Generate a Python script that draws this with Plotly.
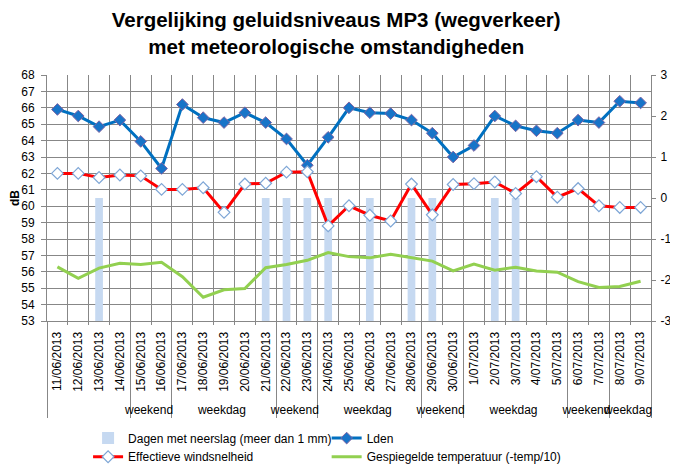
import plotly.graph_objects as go

dates = ["11/06/2013", "12/06/2013", "13/06/2013", "14/06/2013", "15/06/2013",
         "16/06/2013", "17/06/2013", "18/06/2013", "19/06/2013", "20/06/2013",
         "21/06/2013", "22/06/2013", "23/06/2013", "24/06/2013", "25/06/2013",
         "26/06/2013", "27/06/2013", "28/06/2013", "29/06/2013", "30/06/2013",
         "1/07/2013", "2/07/2013", "3/07/2013", "4/07/2013", "5/07/2013",
         "6/07/2013", "7/07/2013", "8/07/2013", "9/07/2013"]

periods = [" ", " ", " ", " ",
           "weekend", "weekend",
           "weekdag", "weekdag", "weekdag", "weekdag", "weekdag",
           "weekend", "weekend",
           "weekdag", "weekdag", "weekdag", "weekdag", "weekdag",
           "weekend", "weekend",
           "weekdag", "weekdag", "weekdag", "weekdag", "weekdag",
           "weekend", "weekend",
           "weekdag", "weekdag"]

lden = [65.9, 65.5, 64.85, 65.25, 63.95, 62.3, 66.2, 65.4, 65.1, 65.7,
        65.1, 64.1, 62.5, 64.2, 66.0, 65.7, 65.65, 65.25, 64.45, 63.0,
        63.7, 65.5, 64.9, 64.6, 64.45, 65.25, 65.1, 66.4, 66.3]

wind = [0.60, 0.60, 0.50, 0.56, 0.54, 0.21, 0.21, 0.25, -0.35, 0.34,
        0.36, 0.63, 0.64, -0.68, -0.19, -0.42, -0.56, 0.34, -0.41, 0.33,
        0.35, 0.39, 0.11, 0.52, 0.02, 0.23, -0.19, -0.23, -0.23]

temp = [-1.68, -1.96, -1.71, -1.59, -1.62, -1.57, -1.92, -2.42, -2.24, -2.21,
        -1.70, -1.62, -1.52, -1.33, -1.43, -1.46, -1.37, -1.45, -1.54, -1.78,
        -1.61, -1.76, -1.69, -1.78, -1.81, -2.04, -2.18, -2.16, -2.03]

rain = [None, None, 60.5, None, None, None, None, None, None, None,
        60.5, 60.5, 60.5, 60.5, None, 60.5, None, 60.5, 60.5, None,
        None, 60.5, 60.5, None, None, None, None, None, None]

right_ticks = [-3, -2, -1, 0, 1, 2, 3]
right_ticktext = ["-3", "-2", "-1", "0", "1", "2", "3"]

# make each contiguous run of period labels a distinct group (zero-width suffix)
groups = []
run = 0
for i, p in enumerate(periods):
    if i > 0 and p != periods[i - 1]:
        run += 1
    groups.append(p + "\u200b" * run)
x = [groups, ["\u00a0" + d for d in dates]]

FONT = "Liberation Sans"
GRID = "#878787"

fig = go.Figure()
fig.add_trace(go.Bar(
    x=x, y=rain, name="Dagen met neerslag (meer dan 1 mm)",
    marker=dict(color="#C6D9F1", line=dict(width=0)), width=0.37,
    yaxis="y", legend="legend"))
fig.add_trace(go.Scatter(
    x=x, y=lden, name="Lden", mode="lines+markers",
    line=dict(color="#0070C0", width=3),
    marker=dict(symbol="diamond", size=9, color="#1874C8",
                line=dict(color="#8064A2", width=1)),
    yaxis="y", legend="legend2"))
fig.add_trace(go.Scatter(
    x=x, y=wind, name="Effectieve windsnelheid", mode="lines+markers",
    line=dict(color="#FF0000", width=3),
    marker=dict(symbol="diamond", size=9, color="white",
                line=dict(color="#7EA6D6", width=1.2)),
    yaxis="y2", legend="legend3"))
fig.add_trace(go.Scatter(
    x=x, y=temp, name="Gespiegelde temperatuur (-temp/10)", mode="lines",
    line=dict(color="#92D050", width=3),
    yaxis="y2", legend="legend4"))

legend_common = dict(orientation="h", xanchor="left", yanchor="middle",
                     font=dict(family=FONT, size=12),
                     bgcolor="rgba(0,0,0,0)")
col1, col2 = 0.068, 0.463
row1, row2 = -0.476, -0.552

fig.update_layout(
    width=662, height=458,
    margin=dict(l=39, r=19, t=67, b=145, autoexpand=False),
    paper_bgcolor="white", plot_bgcolor="white",
    font=dict(family=FONT, size=12, color="black"),
    title=dict(text="Vergelijking geluidsniveaus MP3 (wegverkeer)<br>met meteorologische omstandigheden",
               font=dict(family=FONT, size=20.5, color="black", weight="bold"),
               x=0.4958, xanchor="center", y=0.9588, yanchor="middle"),
    showlegend=True,
    legend=dict(legend_common, x=col1, y=row1),
    legend2=dict(legend_common, x=col2, y=row1),
    legend3=dict(legend_common, x=col1, y=row2),
    legend4=dict(legend_common, x=col2, y=row2),
    xaxis=dict(type="multicategory", tickangle=-90, showgrid=True, gridcolor=GRID,
               gridwidth=1, showline=True, linecolor=GRID, linewidth=1,
               range=[-0.5, len(dates) - 0.5],
               ticks="outside", ticklen=3, tickcolor=GRID, ticklabelstandoff=5,
               showdividers=True, dividercolor=GRID, dividerwidth=1,
               tickfont=dict(family=FONT, size=12), automargin=False),
    yaxis=dict(range=[53, 68], dtick=1, showgrid=True, gridcolor=GRID, gridwidth=1,
               showline=True, linecolor=GRID, linewidth=1,
               ticks="outside", ticklen=5, tickcolor=GRID, zeroline=False,
               ticklabelstandoff=4,
               title=dict(text="<b>dB</b>", font=dict(size=12), standoff=6),
               tickfont=dict(family=FONT, size=12), automargin=False),
    yaxis2=dict(range=[-3, 3], tickmode="array", tickvals=right_ticks,
                ticktext=right_ticktext, overlaying="y", side="right",
                showgrid=False, zeroline=False, showline=True, linecolor=GRID,
                ticks="outside", ticklen=4, tickcolor=GRID, ticklabelstandoff=2,
                ticklabeloverflow="allow",
                tickfont=dict(family=FONT, size=12), automargin=False),
)

fig.write_html("out.html")
